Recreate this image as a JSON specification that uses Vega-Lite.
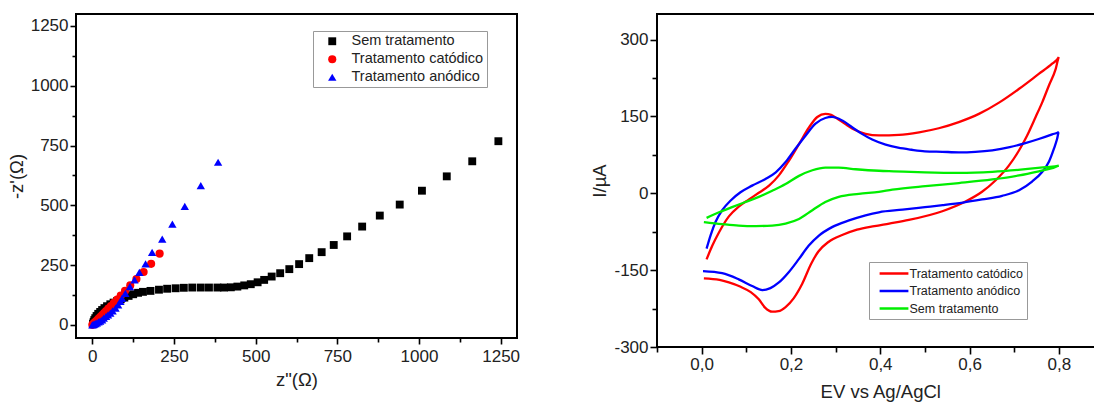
{
  "$schema": "https://vega.github.io/schema/vega-lite/v6.json",
  "background": "white",
  "padding": {"left": 6, "top": 13, "right": 0, "bottom": 0},
  "spacing": 68,
  "config": {
    "font": "Liberation Sans",
    "view": {"stroke": "black", "strokeWidth": 2},
    "axis": {
      "grid": false,
      "domain": false,
      "tickColor": "black",
      "tickWidth": 1.6,
      "labelFont": "Liberation Sans",
      "labelFontSize": 17,
      "labelColor": "#222222",
      "titleFont": "Liberation Sans",
      "titleFontSize": 18.5,
      "titleFontWeight": "normal",
      "titleColor": "#222222"
    },
    "legend": {
      "title": null,
      "strokeColor": "#999999",
      "fillColor": "white",
      "labelFont": "Liberation Sans",
      "labelColor": "#222222"
    }
  },
  "resolve": {"scale": {"color": "independent", "shape": "independent", "size": "independent"}},
  "hconcat": [
    {
      "width": 441,
      "height": 324,
      "data": {
        "values": [
          {"s": "Sem tratamento", "zr": 2, "zi": 5},
          {"s": "Sem tratamento", "zr": 4, "zi": 12},
          {"s": "Sem tratamento", "zr": 6, "zi": 20},
          {"s": "Sem tratamento", "zr": 9, "zi": 28},
          {"s": "Sem tratamento", "zr": 13, "zi": 37},
          {"s": "Sem tratamento", "zr": 18, "zi": 46},
          {"s": "Sem tratamento", "zr": 24, "zi": 54},
          {"s": "Sem tratamento", "zr": 30, "zi": 62},
          {"s": "Sem tratamento", "zr": 37, "zi": 70},
          {"s": "Sem tratamento", "zr": 45, "zi": 78},
          {"s": "Sem tratamento", "zr": 55, "zi": 86},
          {"s": "Sem tratamento", "zr": 65, "zi": 93},
          {"s": "Sem tratamento", "zr": 76, "zi": 100},
          {"s": "Sem tratamento", "zr": 87, "zi": 107},
          {"s": "Sem tratamento", "zr": 98, "zi": 114},
          {"s": "Sem tratamento", "zr": 111, "zi": 121},
          {"s": "Sem tratamento", "zr": 125, "zi": 128},
          {"s": "Sem tratamento", "zr": 140, "zi": 134},
          {"s": "Sem tratamento", "zr": 155, "zi": 138},
          {"s": "Sem tratamento", "zr": 178, "zi": 142},
          {"s": "Sem tratamento", "zr": 204, "zi": 147},
          {"s": "Sem tratamento", "zr": 229, "zi": 151},
          {"s": "Sem tratamento", "zr": 255, "zi": 153},
          {"s": "Sem tratamento", "zr": 280, "zi": 155},
          {"s": "Sem tratamento", "zr": 306, "zi": 156},
          {"s": "Sem tratamento", "zr": 332, "zi": 156},
          {"s": "Sem tratamento", "zr": 357, "zi": 156},
          {"s": "Sem tratamento", "zr": 383, "zi": 156},
          {"s": "Sem tratamento", "zr": 403, "zi": 156},
          {"s": "Sem tratamento", "zr": 424, "zi": 157},
          {"s": "Sem tratamento", "zr": 444, "zi": 160},
          {"s": "Sem tratamento", "zr": 465, "zi": 165},
          {"s": "Sem tratamento", "zr": 485, "zi": 170},
          {"s": "Sem tratamento", "zr": 506, "zi": 178},
          {"s": "Sem tratamento", "zr": 526, "zi": 188},
          {"s": "Sem tratamento", "zr": 549, "zi": 202},
          {"s": "Sem tratamento", "zr": 575, "zi": 216},
          {"s": "Sem tratamento", "zr": 603, "zi": 233},
          {"s": "Sem tratamento", "zr": 633, "zi": 254},
          {"s": "Sem tratamento", "zr": 664, "zi": 279},
          {"s": "Sem tratamento", "zr": 702, "zi": 304},
          {"s": "Sem tratamento", "zr": 739, "zi": 334},
          {"s": "Sem tratamento", "zr": 780, "zi": 370},
          {"s": "Sem tratamento", "zr": 826, "zi": 411},
          {"s": "Sem tratamento", "zr": 880, "zi": 457},
          {"s": "Sem tratamento", "zr": 941, "zi": 503},
          {"s": "Sem tratamento", "zr": 1009, "zi": 561},
          {"s": "Sem tratamento", "zr": 1085, "zi": 621},
          {"s": "Sem tratamento", "zr": 1163, "zi": 684},
          {"s": "Sem tratamento", "zr": 1243, "zi": 768},
          {"s": "Tratamento catódico", "zr": 0, "zi": 0},
          {"s": "Tratamento catódico", "zr": 2, "zi": 2},
          {"s": "Tratamento catódico", "zr": 4, "zi": 5},
          {"s": "Tratamento catódico", "zr": 6, "zi": 8},
          {"s": "Tratamento catódico", "zr": 9, "zi": 12},
          {"s": "Tratamento catódico", "zr": 12, "zi": 16},
          {"s": "Tratamento catódico", "zr": 16, "zi": 21},
          {"s": "Tratamento catódico", "zr": 20, "zi": 27},
          {"s": "Tratamento catódico", "zr": 25, "zi": 34},
          {"s": "Tratamento catódico", "zr": 30, "zi": 41},
          {"s": "Tratamento catódico", "zr": 36, "zi": 49},
          {"s": "Tratamento catódico", "zr": 42, "zi": 58},
          {"s": "Tratamento catódico", "zr": 49, "zi": 68},
          {"s": "Tratamento catódico", "zr": 57, "zi": 79},
          {"s": "Tratamento catódico", "zr": 66, "zi": 92},
          {"s": "Tratamento catódico", "zr": 76, "zi": 106},
          {"s": "Tratamento catódico", "zr": 87, "zi": 122},
          {"s": "Tratamento catódico", "zr": 100, "zi": 142},
          {"s": "Tratamento catódico", "zr": 116, "zi": 165},
          {"s": "Tratamento catódico", "zr": 135, "zi": 192},
          {"s": "Tratamento catódico", "zr": 157, "zi": 221},
          {"s": "Tratamento catódico", "zr": 180, "zi": 255},
          {"s": "Tratamento catódico", "zr": 206, "zi": 298},
          {"s": "Tratamento anódico", "zr": 0, "zi": 0},
          {"s": "Tratamento anódico", "zr": 3, "zi": 1},
          {"s": "Tratamento anódico", "zr": 6, "zi": 3},
          {"s": "Tratamento anódico", "zr": 10, "zi": 5},
          {"s": "Tratamento anódico", "zr": 14, "zi": 8},
          {"s": "Tratamento anódico", "zr": 19, "zi": 12},
          {"s": "Tratamento anódico", "zr": 24, "zi": 16},
          {"s": "Tratamento anódico", "zr": 30, "zi": 21},
          {"s": "Tratamento anódico", "zr": 35, "zi": 28},
          {"s": "Tratamento anódico", "zr": 42, "zi": 35},
          {"s": "Tratamento anódico", "zr": 48, "zi": 42},
          {"s": "Tratamento anódico", "zr": 55, "zi": 49},
          {"s": "Tratamento anódico", "zr": 62, "zi": 58},
          {"s": "Tratamento anódico", "zr": 71, "zi": 70},
          {"s": "Tratamento anódico", "zr": 79, "zi": 84},
          {"s": "Tratamento anódico", "zr": 86, "zi": 98},
          {"s": "Tratamento anódico", "zr": 91, "zi": 111},
          {"s": "Tratamento anódico", "zr": 101, "zi": 132},
          {"s": "Tratamento anódico", "zr": 115, "zi": 160},
          {"s": "Tratamento anódico", "zr": 129, "zi": 188},
          {"s": "Tratamento anódico", "zr": 144, "zi": 219},
          {"s": "Tratamento anódico", "zr": 163, "zi": 255},
          {"s": "Tratamento anódico", "zr": 183, "zi": 303},
          {"s": "Tratamento anódico", "zr": 214, "zi": 359},
          {"s": "Tratamento anódico", "zr": 245, "zi": 421},
          {"s": "Tratamento anódico", "zr": 283, "zi": 495},
          {"s": "Tratamento anódico", "zr": 332, "zi": 582},
          {"s": "Tratamento anódico", "zr": 385, "zi": 680}
        ]
      },
      "mark": {"type": "point", "filled": true, "opacity": 1},
      "encoding": {
        "x": {
          "field": "zr", "type": "quantitative",
          "scale": {"domain": [-50, 1300], "nice": false, "zero": false},
          "axis": {
            "title": "z\"(Ω)",
            "values": [0, 125, 250, 375, 500, 625, 750, 875, 1000, 1125, 1250],
            "labelExpr": "datum.value % 250 === 0 ? '' + datum.value : ''",
            "tickSize": {"condition": {"test": "datum.value % 250 !== 0", "value": 4}, "value": 6},
            "labelPadding": 4,
            "titlePadding": 6
          }
        },
        "y": {
          "field": "zi", "type": "quantitative",
          "scale": {"domain": [-55, 1300], "nice": false, "zero": false},
          "axis": {
            "title": "-z'(Ω)",
            "values": [0, 125, 250, 375, 500, 625, 750, 875, 1000, 1125, 1250],
            "labelExpr": "datum.value % 250 === 0 ? '' + datum.value : ''",
            "tickSize": {"condition": {"test": "datum.value % 250 !== 0", "value": 4}, "value": 6},
            "labelPadding": 2,
            "titlePadding": 4
          }
        },
        "color": {
          "field": "s", "type": "nominal",
          "scale": {"domain": ["Sem tratamento", "Tratamento catódico", "Tratamento anódico"], "range": ["#000000", "#ff0000", "#0000ff"]},
          "legend": {"orient": "none", "legendX": 237, "legendY": 17, "labelFontSize": 14.5, "padding": 3, "rowPadding": 3, "symbolOffset": 9, "labelOffset": 12}
        },
        "shape": {
          "field": "s", "type": "nominal",
          "scale": {"domain": ["Sem tratamento", "Tratamento catódico", "Tratamento anódico"], "range": ["square", "circle", "triangle-up"]},
          "legend": {"orient": "none", "legendX": 237, "legendY": 17, "labelFontSize": 14.5, "padding": 3, "rowPadding": 3, "symbolOffset": 9, "labelOffset": 12}
        },
        "size": {
          "field": "s", "type": "nominal",
          "scale": {"domain": ["Sem tratamento", "Tratamento catódico", "Tratamento anódico"], "range": [62, 70, 95]},
          "legend": null
        }
      }
    },
    {
      "width": 446.5,
      "height": 333,
      "data": {
        "values": [
          {"s": "Tratamento catódico", "E": 0.011, "I": -129},
          {"s": "Tratamento catódico", "E": 0.024, "I": -102},
          {"s": "Tratamento catódico", "E": 0.039, "I": -76},
          {"s": "Tratamento catódico", "E": 0.061, "I": -45},
          {"s": "Tratamento catódico", "E": 0.083, "I": -26},
          {"s": "Tratamento catódico", "E": 0.106, "I": -12},
          {"s": "Tratamento catódico", "E": 0.128, "I": 1},
          {"s": "Tratamento catódico", "E": 0.151, "I": 15},
          {"s": "Tratamento catódico", "E": 0.173, "I": 35},
          {"s": "Tratamento catódico", "E": 0.195, "I": 63},
          {"s": "Tratamento catódico", "E": 0.218, "I": 96},
          {"s": "Tratamento catódico", "E": 0.240, "I": 128},
          {"s": "Tratamento catódico", "E": 0.259, "I": 149},
          {"s": "Tratamento catódico", "E": 0.277, "I": 155},
          {"s": "Tratamento catódico", "E": 0.290, "I": 153},
          {"s": "Tratamento catódico", "E": 0.300, "I": 148},
          {"s": "Tratamento catódico", "E": 0.322, "I": 135},
          {"s": "Tratamento catódico", "E": 0.345, "I": 123},
          {"s": "Tratamento catódico", "E": 0.367, "I": 116},
          {"s": "Tratamento catódico", "E": 0.397, "I": 113},
          {"s": "Tratamento catódico", "E": 0.442, "I": 114},
          {"s": "Tratamento catódico", "E": 0.487, "I": 119},
          {"s": "Tratamento catódico", "E": 0.531, "I": 127},
          {"s": "Tratamento catódico", "E": 0.576, "I": 139},
          {"s": "Tratamento catódico", "E": 0.621, "I": 155},
          {"s": "Tratamento catódico", "E": 0.666, "I": 177},
          {"s": "Tratamento catódico", "E": 0.711, "I": 204},
          {"s": "Tratamento catódico", "E": 0.755, "I": 233},
          {"s": "Tratamento catódico", "E": 0.785, "I": 253},
          {"s": "Tratamento catódico", "E": 0.800, "I": 266},
          {"s": "Tratamento catódico", "E": 0.793, "I": 243},
          {"s": "Tratamento catódico", "E": 0.778, "I": 211},
          {"s": "Tratamento catódico", "E": 0.763, "I": 178},
          {"s": "Tratamento catódico", "E": 0.748, "I": 149},
          {"s": "Tratamento catódico", "E": 0.729, "I": 113},
          {"s": "Tratamento catódico", "E": 0.711, "I": 84},
          {"s": "Tratamento catódico", "E": 0.688, "I": 54},
          {"s": "Tratamento catódico", "E": 0.658, "I": 25},
          {"s": "Tratamento catódico", "E": 0.628, "I": 3},
          {"s": "Tratamento catódico", "E": 0.591, "I": -16},
          {"s": "Tratamento catódico", "E": 0.539, "I": -35},
          {"s": "Tratamento catódico", "E": 0.464, "I": -52},
          {"s": "Tratamento catódico", "E": 0.420, "I": -59},
          {"s": "Tratamento catódico", "E": 0.387, "I": -64},
          {"s": "Tratamento catódico", "E": 0.348, "I": -71},
          {"s": "Tratamento catódico", "E": 0.316, "I": -81},
          {"s": "Tratamento catódico", "E": 0.284, "I": -95},
          {"s": "Tratamento catódico", "E": 0.261, "I": -114},
          {"s": "Tratamento catódico", "E": 0.245, "I": -138},
          {"s": "Tratamento catódico", "E": 0.225, "I": -177},
          {"s": "Tratamento catódico", "E": 0.206, "I": -205},
          {"s": "Tratamento catódico", "E": 0.188, "I": -222},
          {"s": "Tratamento catódico", "E": 0.172, "I": -230},
          {"s": "Tratamento catódico", "E": 0.158, "I": -231},
          {"s": "Tratamento catódico", "E": 0.142, "I": -223},
          {"s": "Tratamento catódico", "E": 0.128, "I": -207},
          {"s": "Tratamento catódico", "E": 0.110, "I": -193},
          {"s": "Tratamento catódico", "E": 0.086, "I": -182},
          {"s": "Tratamento catódico", "E": 0.061, "I": -174},
          {"s": "Tratamento catódico", "E": 0.040, "I": -169},
          {"s": "Tratamento catódico", "E": 0.005, "I": -166},
          {"s": "Tratamento anódico", "E": 0.011, "I": -108},
          {"s": "Tratamento anódico", "E": 0.020, "I": -82},
          {"s": "Tratamento anódico", "E": 0.031, "I": -56},
          {"s": "Tratamento anódico", "E": 0.046, "I": -33},
          {"s": "Tratamento anódico", "E": 0.065, "I": -14},
          {"s": "Tratamento anódico", "E": 0.087, "I": 2},
          {"s": "Tratamento anódico", "E": 0.113, "I": 15},
          {"s": "Tratamento anódico", "E": 0.143, "I": 28},
          {"s": "Tratamento anódico", "E": 0.166, "I": 41},
          {"s": "Tratamento anódico", "E": 0.188, "I": 61},
          {"s": "Tratamento anódico", "E": 0.210, "I": 87},
          {"s": "Tratamento anódico", "E": 0.233, "I": 113},
          {"s": "Tratamento anódico", "E": 0.255, "I": 136},
          {"s": "Tratamento anódico", "E": 0.277, "I": 147},
          {"s": "Tratamento anódico", "E": 0.292, "I": 149},
          {"s": "Tratamento anódico", "E": 0.315, "I": 142},
          {"s": "Tratamento anódico", "E": 0.337, "I": 129},
          {"s": "Tratamento anódico", "E": 0.359, "I": 116},
          {"s": "Tratamento anódico", "E": 0.382, "I": 105},
          {"s": "Tratamento anódico", "E": 0.412, "I": 95},
          {"s": "Tratamento anódico", "E": 0.440, "I": 89},
          {"s": "Tratamento anódico", "E": 0.470, "I": 85},
          {"s": "Tratamento anódico", "E": 0.500, "I": 82},
          {"s": "Tratamento anódico", "E": 0.539, "I": 81},
          {"s": "Tratamento anódico", "E": 0.576, "I": 80},
          {"s": "Tratamento anódico", "E": 0.613, "I": 81},
          {"s": "Tratamento anódico", "E": 0.651, "I": 84},
          {"s": "Tratamento anódico", "E": 0.690, "I": 90},
          {"s": "Tratamento anódico", "E": 0.725, "I": 98},
          {"s": "Tratamento anódico", "E": 0.755, "I": 106},
          {"s": "Tratamento anódico", "E": 0.785, "I": 115},
          {"s": "Tratamento anódico", "E": 0.800, "I": 120},
          {"s": "Tratamento anódico", "E": 0.796, "I": 106},
          {"s": "Tratamento anódico", "E": 0.789, "I": 87},
          {"s": "Tratamento anódico", "E": 0.778, "I": 62},
          {"s": "Tratamento anódico", "E": 0.763, "I": 42},
          {"s": "Tratamento anódico", "E": 0.740, "I": 23},
          {"s": "Tratamento anódico", "E": 0.711, "I": 6},
          {"s": "Tratamento anódico", "E": 0.673, "I": -5},
          {"s": "Tratamento anódico", "E": 0.628, "I": -12},
          {"s": "Tratamento anódico", "E": 0.585, "I": -18},
          {"s": "Tratamento anódico", "E": 0.540, "I": -23},
          {"s": "Tratamento anódico", "E": 0.500, "I": -27},
          {"s": "Tratamento anódico", "E": 0.450, "I": -32},
          {"s": "Tratamento anódico", "E": 0.397, "I": -37},
          {"s": "Tratamento anódico", "E": 0.367, "I": -43},
          {"s": "Tratamento anódico", "E": 0.330, "I": -53},
          {"s": "Tratamento anódico", "E": 0.292, "I": -66},
          {"s": "Tratamento anódico", "E": 0.262, "I": -83},
          {"s": "Tratamento anódico", "E": 0.240, "I": -102},
          {"s": "Tratamento anódico", "E": 0.218, "I": -128},
          {"s": "Tratamento anódico", "E": 0.195, "I": -154},
          {"s": "Tratamento anódico", "E": 0.173, "I": -174},
          {"s": "Tratamento anódico", "E": 0.154, "I": -185},
          {"s": "Tratamento anódico", "E": 0.136, "I": -189},
          {"s": "Tratamento anódico", "E": 0.113, "I": -181},
          {"s": "Tratamento anódico", "E": 0.083, "I": -168},
          {"s": "Tratamento anódico", "E": 0.046, "I": -156},
          {"s": "Tratamento anódico", "E": 0.003, "I": -152},
          {"s": "Sem tratamento", "E": 0.011, "I": -48},
          {"s": "Sem tratamento", "E": 0.039, "I": -37},
          {"s": "Sem tratamento", "E": 0.068, "I": -27},
          {"s": "Sem tratamento", "E": 0.098, "I": -17},
          {"s": "Sem tratamento", "E": 0.128, "I": -7},
          {"s": "Sem tratamento", "E": 0.158, "I": 5},
          {"s": "Sem tratamento", "E": 0.188, "I": 18},
          {"s": "Sem tratamento", "E": 0.218, "I": 34},
          {"s": "Sem tratamento", "E": 0.248, "I": 45},
          {"s": "Sem tratamento", "E": 0.277, "I": 50},
          {"s": "Sem tratamento", "E": 0.307, "I": 50},
          {"s": "Sem tratamento", "E": 0.345, "I": 47},
          {"s": "Sem tratamento", "E": 0.397, "I": 44},
          {"s": "Sem tratamento", "E": 0.430, "I": 43},
          {"s": "Sem tratamento", "E": 0.500, "I": 41},
          {"s": "Sem tratamento", "E": 0.576, "I": 40},
          {"s": "Sem tratamento", "E": 0.651, "I": 42},
          {"s": "Sem tratamento", "E": 0.725, "I": 47},
          {"s": "Sem tratamento", "E": 0.770, "I": 51},
          {"s": "Sem tratamento", "E": 0.800, "I": 54},
          {"s": "Sem tratamento", "E": 0.785, "I": 49},
          {"s": "Sem tratamento", "E": 0.755, "I": 43},
          {"s": "Sem tratamento", "E": 0.711, "I": 35},
          {"s": "Sem tratamento", "E": 0.651, "I": 27},
          {"s": "Sem tratamento", "E": 0.576, "I": 20},
          {"s": "Sem tratamento", "E": 0.501, "I": 14},
          {"s": "Sem tratamento", "E": 0.427, "I": 7},
          {"s": "Sem tratamento", "E": 0.397, "I": 3},
          {"s": "Sem tratamento", "E": 0.352, "I": -1},
          {"s": "Sem tratamento", "E": 0.307, "I": -7},
          {"s": "Sem tratamento", "E": 0.277, "I": -17},
          {"s": "Sem tratamento", "E": 0.248, "I": -33},
          {"s": "Sem tratamento", "E": 0.218, "I": -50},
          {"s": "Sem tratamento", "E": 0.188, "I": -59},
          {"s": "Sem tratamento", "E": 0.158, "I": -63},
          {"s": "Sem tratamento", "E": 0.121, "I": -64},
          {"s": "Sem tratamento", "E": 0.083, "I": -63},
          {"s": "Sem tratamento", "E": 0.046, "I": -60},
          {"s": "Sem tratamento", "E": 0.005, "I": -56}
        ]
      },
      "mark": {"type": "line", "strokeWidth": 2.3, "interpolate": "monotone"},
      "encoding": {
        "x": {
          "field": "E", "type": "quantitative",
          "scale": {"domain": [-0.1, 0.9], "nice": false, "zero": false},
          "axis": {
            "title": "EV vs Ag/AgCl",
            "values": [-0.1, 0, 0.1, 0.2, 0.3, 0.4, 0.5, 0.6, 0.7, 0.8, 0.9],
            "labelExpr": "abs(round(datum.value * 10)) % 2 === 0 ? replace(format(datum.value, '.1f'), '.', ',') : ''",
            "tickSize": {"condition": {"test": "abs(round(datum.value * 10)) % 2 === 1", "value": 5}, "value": 7},
            "labelPadding": 2,
            "titlePadding": 10
          }
        },
        "y": {
          "field": "I", "type": "quantitative",
          "scale": {"domain": [-300, 350], "nice": false, "zero": false},
          "axis": {
            "title": "I/µA",
            "values": [-300, -225, -150, -75, 0, 75, 150, 225, 300],
            "labelExpr": "datum.value % 150 === 0 ? '' + datum.value : ''",
            "tickSize": {"condition": {"test": "datum.value % 150 !== 0", "value": 5}, "value": 7},
            "labelPadding": 2,
            "titlePadding": 4
          }
        },
        "color": {
          "field": "s", "type": "nominal",
          "scale": {"domain": ["Tratamento catódico", "Tratamento anódico", "Sem tratamento"], "range": ["#ff0000", "#0000ff", "#00ee00"]},
          "legend": {"orient": "none", "legendX": 212, "legendY": 248, "labelFontSize": 12.5, "padding": 4, "rowPadding": 3.5, "symbolOffset": 13.5, "labelOffset": 8, "symbolType": "M-2.4,0H2.4", "symbolSize": 144, "symbolStrokeWidth": 2.5}
        },
        "order": {"value": null}
      }
    }
  ]
}
